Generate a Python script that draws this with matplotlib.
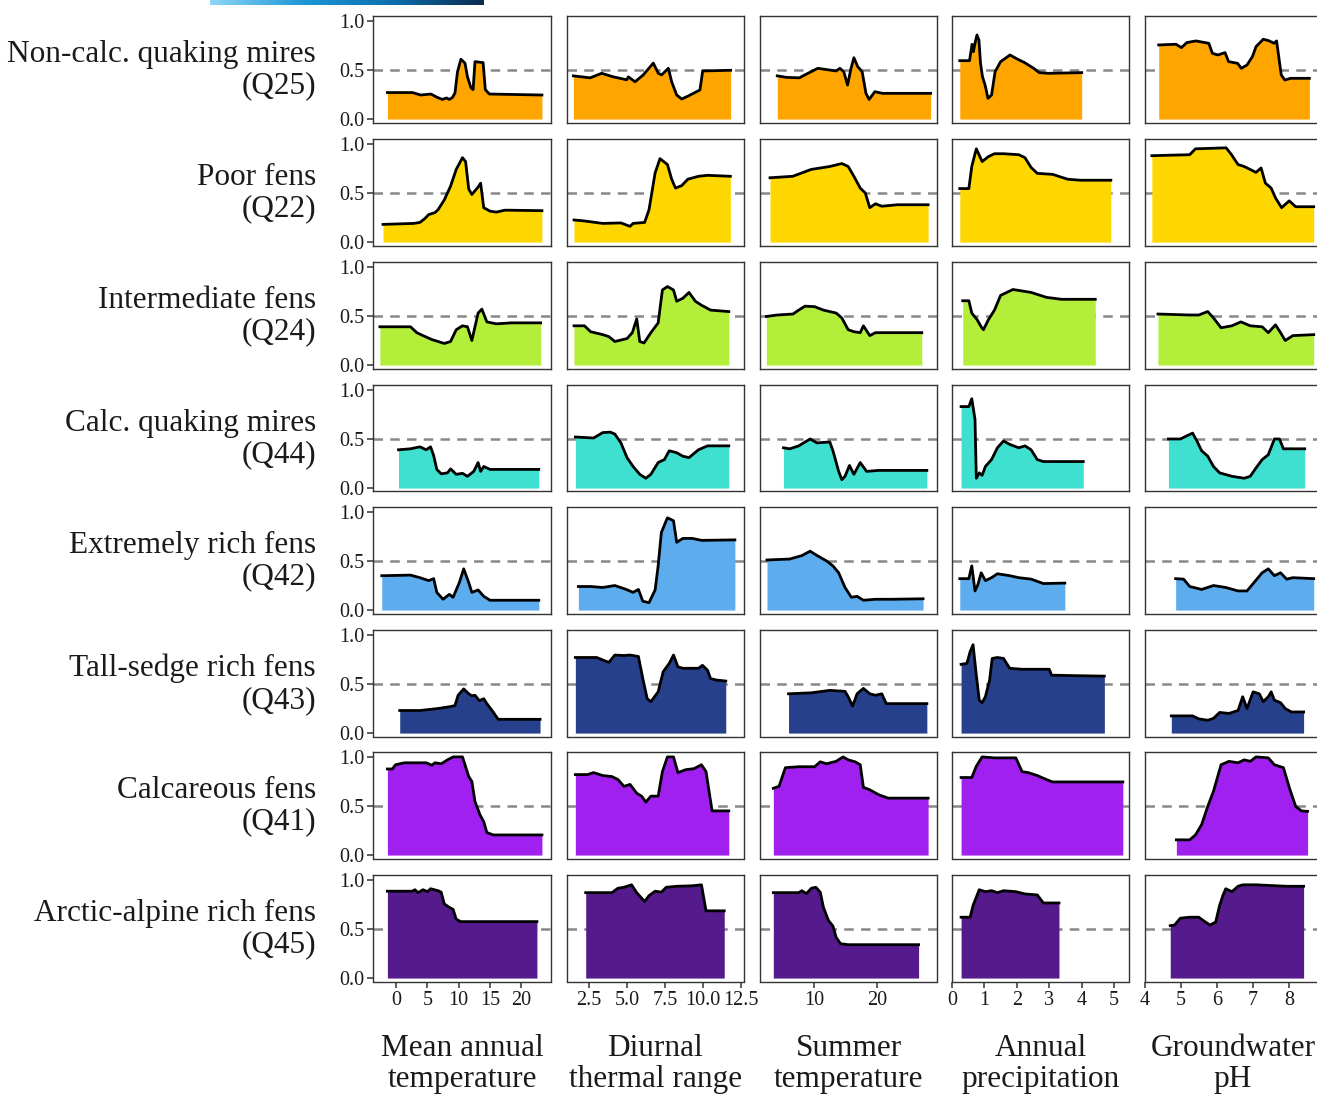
import numpy as np
import matplotlib
matplotlib.use("Agg")
import matplotlib.pyplot as plt
from matplotlib.colors import LinearSegmentedColormap

plt.rcParams['font.family'] = ['Liberation Serif', 'DejaVu Serif']

# ---------------- data ----------------
row_labels = ["Non-calc. quaking mires\n(Q25)", "Poor fens\n(Q22)", "Intermediate fens\n(Q24)",
              "Calc. quaking mires\n(Q44)", "Extremely rich fens\n(Q42)", "Tall-sedge rich fens\n(Q43)",
              "Calcareous fens\n(Q41)", "Arctic-alpine rich fens\n(Q45)"]
col_labels = ["Mean annual\ntemperature", "Diurnal\nthermal range", "Summer\ntemperature",
              "Annual\nprecipitation", "Groundwater\npH"]
fill_colors = ["#FFA500", "#FFD700", "#B3EE3A", "#40E0D0", "#5CACEE", "#27408B", "#A020F0", "#551A8B"]

xticks = [[0, 5, 10, 15, 20], [2.5, 5.0, 7.5, 10.0, 12.5], [10, 20], [0, 1, 2, 3, 4, 5], [4, 5, 6, 7, 8]]
xticklabels = [["0", "5", "10", "15", "20"], ["2.5", "5.0", "7.5", "10.0", "12.5"], ["10", "20"],
               ["0", "1", "2", "3", "4", "5"], ["4", "5", "6", "7", "8"]]
yticks = [0.0, 0.5, 1.0]
yticklabels = ["0.0", "0.5", "1.0"]

# Q25 Non-calc. quaking mires
q25_mat_x = [-1.4, 2.6, 3.95, 5.55, 6.6, 7.4, 8.05, 8.5, 9.0, 9.4, 9.8, 10.35, 11.0, 11.4, 11.95, 12.3, 12.6, 13.9, 14.25, 14.9, 23.3]
q25_mat_y = [0.27, 0.27, 0.245, 0.255, 0.22, 0.20, 0.215, 0.20, 0.22, 0.265, 0.48, 0.61, 0.57, 0.43, 0.32, 0.30, 0.585, 0.575, 0.30, 0.255, 0.245]
q25_dtr_x = [1.47, 2.57, 3.33, 4.1, 4.98, 5.09, 5.53, 6.07, 6.73, 7.06, 7.28, 7.72, 7.94, 8.27, 8.6, 9.03, 9.59, 9.8, 9.98, 11.82]
q25_dtr_y = [0.44, 0.42, 0.466, 0.43, 0.40, 0.43, 0.38, 0.45, 0.57, 0.466, 0.45, 0.517, 0.38, 0.245, 0.204, 0.235, 0.28, 0.296, 0.49, 0.497]
q25_sum_x = [4.22, 5.67, 7.7, 8.57, 10.6, 13.5, 14.1, 14.7, 15.3, 15.85, 16.3, 16.9, 17.6, 18.2, 18.7, 19.6, 20.8, 28.4]
q25_sum_y = [0.44, 0.425, 0.42, 0.45, 0.517, 0.49, 0.517, 0.483, 0.347, 0.517, 0.625, 0.534, 0.483, 0.262, 0.20, 0.279, 0.262, 0.262]
q25_pre_x = [0.24, 0.54, 0.62, 0.66, 0.71, 0.77, 0.83, 0.88, 0.94, 1.02, 1.11, 1.22, 1.33, 1.5, 1.79, 2.01, 2.24, 2.52, 2.69, 2.98, 4.0]
q25_pre_y = [0.595, 0.595, 0.762, 0.687, 0.772, 0.857, 0.806, 0.568, 0.432, 0.347, 0.211, 0.245, 0.483, 0.585, 0.653, 0.612, 0.575, 0.517, 0.473, 0.466, 0.473]
q25_ph_x = [4.38, 4.86, 5.01, 5.16, 5.41, 5.77, 5.87, 6.02, 6.22, 6.32, 6.57, 6.67, 6.83, 6.98, 7.08, 7.28, 7.43, 7.58, 7.65, 7.71, 7.78, 7.88, 8.04, 8.56]
q25_ph_y = [0.755, 0.762, 0.728, 0.779, 0.796, 0.772, 0.67, 0.653, 0.677, 0.585, 0.568, 0.517, 0.551, 0.636, 0.738, 0.813, 0.799, 0.772, 0.796, 0.636, 0.449, 0.398, 0.415, 0.415]

# Q22 Poor fens
q22_mat_x = [-2.1, 2.8, 3.8, 4.6, 5.2, 6.2, 6.7, 7.7, 8.7, 9.6, 10.6, 11.1, 11.6, 12.1, 13.1, 13.5, 14.0, 15.0, 16.0, 17.4, 23.3]
q22_mat_y = [0.18, 0.19, 0.20, 0.24, 0.28, 0.30, 0.33, 0.43, 0.57, 0.74, 0.86, 0.82, 0.54, 0.485, 0.56, 0.60, 0.35, 0.315, 0.305, 0.325, 0.32]
q22_dtr_x = [1.51, 2.2, 3.4, 4.6, 5.2, 5.4, 6.16, 6.45, 6.85, 7.17, 7.66, 7.94, 8.19, 8.6, 9.0, 9.7, 10.3, 11.8]
q22_dtr_y = [0.225, 0.215, 0.19, 0.195, 0.16, 0.19, 0.20, 0.33, 0.705, 0.85, 0.79, 0.64, 0.55, 0.575, 0.64, 0.67, 0.68, 0.67]
q22_sum_x = [3.08, 6.66, 9.57, 12.5, 14.4, 15.4, 16.3, 17.3, 18.1, 18.8, 19.7, 20.7, 23.1, 28.0]
q22_sum_y = [0.655, 0.67, 0.74, 0.77, 0.80, 0.77, 0.67, 0.55, 0.50, 0.35, 0.39, 0.365, 0.38, 0.38]
q22_pre_x = [0.24, 0.52, 0.61, 0.75, 0.93, 1.12, 1.31, 1.59, 2.06, 2.25, 2.44, 2.63, 3.1, 3.57, 3.95, 4.9]
q22_pre_y = [0.545, 0.545, 0.77, 0.95, 0.82, 0.87, 0.90, 0.90, 0.89, 0.86, 0.76, 0.70, 0.69, 0.64, 0.63, 0.63]
q22_ph_x = [4.19, 5.24, 5.4, 6.25, 6.4, 6.58, 6.75, 7.08, 7.22, 7.34, 7.5, 7.62, 7.79, 8.0, 8.18, 8.68]
q22_ph_y = [0.88, 0.89, 0.95, 0.96, 0.89, 0.79, 0.77, 0.71, 0.755, 0.60, 0.55, 0.45, 0.35, 0.42, 0.36, 0.36]

# Q24 Intermediate fens
q24_mat_x = [-2.6, 2.3, 3.3, 4.3, 5.7, 7.7, 8.7, 9.6, 10.6, 11.4, 12.1, 13.1, 13.7, 14.5, 16.0, 18.4, 23.1]
q24_mat_y = [0.39, 0.39, 0.33, 0.30, 0.26, 0.22, 0.24, 0.36, 0.40, 0.39, 0.25, 0.53, 0.57, 0.44, 0.42, 0.43, 0.43]
q24_dtr_x = [1.51, 2.2, 2.6, 3.4, 3.8, 4.2, 5.0, 5.35, 5.64, 5.84, 6.12, 6.57, 7.05, 7.33, 7.66, 8.06, 8.27, 8.67, 9.08, 9.5, 9.9, 10.5, 11.7]
q24_dtr_y = [0.40, 0.40, 0.34, 0.31, 0.29, 0.24, 0.27, 0.33, 0.47, 0.24, 0.225, 0.33, 0.43, 0.765, 0.80, 0.765, 0.65, 0.68, 0.74, 0.65, 0.61, 0.56, 0.545]
q24_sum_x = [2.5, 4.2, 6.7, 7.6, 8.6, 10.1, 11.5, 13.5, 14.4, 15.4, 16.3, 17.3, 17.8, 18.8, 19.7, 20.7, 27.0]
q24_sum_y = [0.495, 0.51, 0.52, 0.56, 0.60, 0.595, 0.56, 0.53, 0.48, 0.36, 0.34, 0.33, 0.40, 0.30, 0.33, 0.33, 0.33]
q24_pre_x = [0.33, 0.52, 0.61, 0.78, 0.9, 0.97, 1.12, 1.31, 1.5, 1.88, 2.44, 2.91, 3.38, 4.42]
q24_pre_y = [0.655, 0.655, 0.53, 0.46, 0.39, 0.36, 0.46, 0.56, 0.71, 0.77, 0.74, 0.69, 0.67, 0.67]
q24_ph_x = [4.36, 5.24, 5.49, 5.74, 5.9, 6.11, 6.41, 6.66, 6.92, 7.25, 7.42, 7.62, 7.76, 7.89, 8.1, 8.68]
q24_ph_y = [0.52, 0.51, 0.51, 0.545, 0.48, 0.38, 0.40, 0.44, 0.40, 0.39, 0.33, 0.41, 0.33, 0.25, 0.30, 0.31]

# Q44 Calc. quaking mires
q44_mat_x = [0.37, 2.3, 3.8, 4.8, 5.5, 6.0, 6.5, 7.2, 8.2, 8.7, 9.6, 10.6, 11.4, 12.4, 13.1, 13.5, 14.0, 15.0, 22.8]
q44_mat_y = [0.39, 0.40, 0.42, 0.39, 0.42, 0.33, 0.19, 0.145, 0.155, 0.195, 0.14, 0.15, 0.12, 0.17, 0.26, 0.17, 0.22, 0.19, 0.19]
q44_dtr_x = [1.6, 2.8, 3.4, 3.9, 4.2, 4.6, 5.0, 5.4, 5.84, 6.24, 6.57, 7.05, 7.46, 7.78, 8.27, 8.67, 9.08, 9.7, 10.3, 11.7]
q44_dtr_y = [0.52, 0.51, 0.565, 0.57, 0.55, 0.46, 0.31, 0.22, 0.14, 0.10, 0.14, 0.26, 0.29, 0.38, 0.36, 0.325, 0.31, 0.39, 0.43, 0.43]
q44_sum_x = [5.2, 6.2, 7.6, 9.4, 10.5, 12.5, 13.0, 13.9, 14.4, 14.9, 15.6, 16.3, 17.3, 18.3, 20.2, 27.8]
q44_sum_y = [0.41, 0.40, 0.43, 0.50, 0.46, 0.47, 0.38, 0.17, 0.085, 0.12, 0.23, 0.14, 0.26, 0.17, 0.18, 0.18]
q44_pre_x = [0.28, 0.52, 0.61, 0.71, 0.75, 0.84, 0.93, 1.03, 1.22, 1.4, 1.59, 1.78, 2.06, 2.25, 2.44, 2.63, 2.82, 4.05]
q44_pre_y = [0.83, 0.83, 0.91, 0.70, 0.10, 0.155, 0.13, 0.22, 0.29, 0.41, 0.48, 0.445, 0.41, 0.43, 0.39, 0.29, 0.27, 0.27]
q44_ph_x = [4.65, 4.98, 5.32, 5.44, 5.57, 5.74, 5.9, 6.07, 6.41, 6.75, 6.92, 7.08, 7.25, 7.42, 7.59, 7.73, 7.84, 8.43]
q44_ph_y = [0.50, 0.50, 0.56, 0.48, 0.38, 0.325, 0.22, 0.155, 0.12, 0.10, 0.12, 0.205, 0.29, 0.34, 0.50, 0.50, 0.40, 0.40]

# Q42 Extremely rich fens
q42_mat_x = [-2.3, 2.3, 3.8, 5.2, 6.0, 6.5, 7.5, 8.5, 9.1, 10.1, 10.8, 11.6, 12.1, 13.1, 14.0, 15.0, 22.8]
q42_mat_y = [0.35, 0.356, 0.33, 0.30, 0.32, 0.18, 0.11, 0.16, 0.13, 0.28, 0.42, 0.28, 0.18, 0.205, 0.14, 0.10, 0.10]
q42_dtr_x = [1.8, 2.6, 3.4, 4.2, 4.95, 5.4, 5.75, 6.04, 6.45, 6.85, 7.05, 7.26, 7.66, 8.06, 8.27, 8.67, 9.3, 9.9, 12.1]
q42_dtr_y = [0.24, 0.24, 0.23, 0.25, 0.21, 0.18, 0.21, 0.09, 0.075, 0.205, 0.45, 0.79, 0.94, 0.91, 0.69, 0.73, 0.73, 0.71, 0.715]
q42_sum_x = [2.6, 6.2, 8.1, 9.4, 10.5, 12.0, 13.0, 13.9, 14.9, 15.9, 16.8, 17.8, 19.7, 22.2, 27.2]
q42_sum_y = [0.51, 0.52, 0.555, 0.60, 0.555, 0.50, 0.45, 0.38, 0.23, 0.13, 0.14, 0.10, 0.11, 0.11, 0.115]
q42_pre_x = [0.24, 0.52, 0.61, 0.71, 0.8, 0.9, 1.03, 1.22, 1.4, 1.78, 2.06, 2.44, 2.82, 3.48]
q42_pre_y = [0.32, 0.32, 0.45, 0.195, 0.26, 0.38, 0.30, 0.33, 0.37, 0.35, 0.33, 0.315, 0.27, 0.275]
q42_ph_x = [4.85, 5.07, 5.24, 5.57, 5.9, 6.24, 6.58, 6.83, 7.0, 7.25, 7.42, 7.59, 7.76, 7.93, 8.1, 8.68]
q42_ph_y = [0.32, 0.315, 0.24, 0.21, 0.25, 0.23, 0.195, 0.195, 0.27, 0.38, 0.42, 0.35, 0.38, 0.315, 0.33, 0.32]

# Q43 Tall-sedge rich fens
q43_mat_x = [0.57, 3.8, 6.7, 8.7, 9.4, 9.9, 10.8, 11.6, 12.1, 12.6, 13.3, 14.0, 14.5, 15.5, 16.3, 23.0]
q43_mat_y = [0.23, 0.23, 0.25, 0.27, 0.28, 0.385, 0.45, 0.40, 0.38, 0.385, 0.33, 0.35, 0.30, 0.215, 0.14, 0.14]
q43_dtr_x = [1.6, 3.0, 3.8, 4.2, 4.8, 5.2, 5.75, 6.04, 6.33, 6.57, 7.05, 7.38, 7.78, 8.06, 8.35, 8.67, 9.7, 9.97, 10.3, 10.5, 10.9, 11.5]
q43_dtr_y = [0.77, 0.77, 0.72, 0.795, 0.79, 0.795, 0.78, 0.555, 0.35, 0.32, 0.42, 0.625, 0.71, 0.795, 0.675, 0.66, 0.66, 0.69, 0.64, 0.555, 0.54, 0.53]
q43_sum_x = [6.0, 9.6, 12.5, 14.9, 15.4, 16.1, 16.8, 17.8, 18.8, 19.7, 20.7, 21.4, 27.8]
q43_sum_y = [0.40, 0.41, 0.435, 0.425, 0.37, 0.275, 0.40, 0.455, 0.40, 0.385, 0.40, 0.30, 0.30]
q43_pre_x = [0.28, 0.46, 0.56, 0.65, 0.75, 0.84, 0.93, 1.03, 1.16, 1.24, 1.4, 1.59, 1.78, 2.16, 3.0, 3.07, 3.76, 4.7]
q43_pre_y = [0.70, 0.71, 0.83, 0.90, 0.59, 0.335, 0.31, 0.37, 0.54, 0.76, 0.77, 0.76, 0.66, 0.65, 0.65, 0.59, 0.585, 0.58]
q43_ph_x = [4.73, 5.32, 5.49, 5.74, 5.9, 6.07, 6.33, 6.58, 6.71, 6.83, 7.0, 7.17, 7.28, 7.42, 7.5, 7.59, 7.76, 7.89, 8.06, 8.4]
q43_ph_y = [0.175, 0.175, 0.145, 0.13, 0.15, 0.21, 0.20, 0.23, 0.37, 0.25, 0.42, 0.40, 0.32, 0.37, 0.42, 0.335, 0.31, 0.25, 0.215, 0.215]

# Q41 Calcareous fens
q41_mat_x = [-1.4, -0.6, -0.1, 1.3, 4.8, 5.7, 6.2, 7.2, 8.2, 9.1, 10.6, 11.6, 12.1, 12.6, 13.4, 14.0, 14.5, 15.5, 23.3]
q41_mat_y = [0.877, 0.877, 0.92, 0.94, 0.94, 0.915, 0.94, 0.93, 0.97, 1.0, 1.0, 0.80, 0.75, 0.546, 0.41, 0.34, 0.23, 0.205, 0.205]
q41_dtr_x = [1.6, 2.4, 2.8, 3.4, 4.0, 4.4, 4.8, 5.2, 5.64, 5.96, 6.24, 6.57, 7.05, 7.33, 7.66, 8.06, 8.35, 8.87, 9.4, 9.9, 10.2, 10.6, 11.7]
q41_dtr_y = [0.82, 0.82, 0.84, 0.81, 0.80, 0.77, 0.70, 0.72, 0.63, 0.60, 0.54, 0.60, 0.60, 0.85, 1.0, 1.0, 0.84, 0.87, 0.88, 0.92, 0.85, 0.45, 0.45]
q41_sum_x = [3.6, 4.5, 5.5, 7.6, 10.1, 11.0, 12.0, 13.5, 14.6, 15.4, 16.5, 17.3, 17.8, 18.8, 20.2, 21.7, 28.0]
q41_sum_y = [0.68, 0.70, 0.89, 0.90, 0.90, 0.95, 0.93, 0.955, 1.0, 0.97, 0.95, 0.92, 0.69, 0.665, 0.615, 0.58, 0.58]
q41_pre_x = [0.28, 0.61, 0.75, 0.93, 1.31, 1.97, 2.16, 2.35, 2.63, 2.91, 3.1, 5.27]
q41_pre_y = [0.79, 0.79, 0.905, 1.0, 0.99, 0.99, 0.85, 0.84, 0.81, 0.77, 0.745, 0.745]
q41_ph_x = [4.87, 5.24, 5.4, 5.57, 5.74, 5.9, 6.11, 6.33, 6.58, 6.75, 6.92, 7.08, 7.42, 7.59, 7.84, 8.01, 8.18, 8.34, 8.51]
q41_ph_y = [0.155, 0.155, 0.205, 0.31, 0.495, 0.65, 0.92, 0.955, 0.94, 0.97, 0.955, 1.0, 0.99, 0.92, 0.89, 0.68, 0.495, 0.45, 0.445]

# Q45 Arctic-alpine rich fens
q45_mat_x = [-1.4, 2.6, 3.0, 3.5, 4.3, 5.0, 5.5, 6.7, 7.2, 7.7, 8.5, 9.1, 9.6, 10.3, 22.5]
q45_mat_y = [0.885, 0.885, 0.90, 0.87, 0.90, 0.88, 0.91, 0.89, 0.875, 0.755, 0.72, 0.70, 0.60, 0.575, 0.575]
q45_dtr_x = [2.28, 4.0, 4.4, 4.8, 5.3, 5.64, 6.16, 6.45, 6.85, 7.26, 7.58, 8.27, 9.3, 9.9, 10.2, 11.4]
q45_dtr_y = [0.87, 0.87, 0.915, 0.925, 0.95, 0.87, 0.78, 0.84, 0.885, 0.875, 0.925, 0.935, 0.94, 0.95, 0.685, 0.685]
q45_sum_x = [3.6, 7.6, 8.1, 8.8, 9.6, 10.3, 11.0, 11.5, 12.3, 13.0, 13.5, 14.2, 15.4, 26.5]
q45_sum_y = [0.87, 0.87, 0.89, 0.86, 0.915, 0.925, 0.875, 0.72, 0.585, 0.53, 0.415, 0.35, 0.34, 0.34]
q45_pre_x = [0.28, 0.56, 0.65, 0.84, 1.03, 1.22, 1.4, 1.59, 1.97, 2.25, 2.63, 2.82, 3.3]
q45_pre_y = [0.62, 0.62, 0.74, 0.90, 0.88, 0.89, 0.87, 0.89, 0.88, 0.857, 0.847, 0.765, 0.765]
q45_ph_x = [4.7, 4.82, 4.98, 5.24, 5.49, 5.66, 5.8, 5.96, 6.07, 6.16, 6.24, 6.41, 6.58, 6.71, 7.08, 7.93, 8.4]
q45_ph_y = [0.534, 0.54, 0.61, 0.62, 0.62, 0.575, 0.54, 0.57, 0.74, 0.84, 0.91, 0.88, 0.935, 0.95, 0.95, 0.935, 0.935]

panels = [
    [(q25_mat_x, q25_mat_y), (q25_dtr_x, q25_dtr_y), (q25_sum_x, q25_sum_y), (q25_pre_x, q25_pre_y), (q25_ph_x, q25_ph_y)],
    [(q22_mat_x, q22_mat_y), (q22_dtr_x, q22_dtr_y), (q22_sum_x, q22_sum_y), (q22_pre_x, q22_pre_y), (q22_ph_x, q22_ph_y)],
    [(q24_mat_x, q24_mat_y), (q24_dtr_x, q24_dtr_y), (q24_sum_x, q24_sum_y), (q24_pre_x, q24_pre_y), (q24_ph_x, q24_ph_y)],
    [(q44_mat_x, q44_mat_y), (q44_dtr_x, q44_dtr_y), (q44_sum_x, q44_sum_y), (q44_pre_x, q44_pre_y), (q44_ph_x, q44_ph_y)],
    [(q42_mat_x, q42_mat_y), (q42_dtr_x, q42_dtr_y), (q42_sum_x, q42_sum_y), (q42_pre_x, q42_pre_y), (q42_ph_x, q42_ph_y)],
    [(q43_mat_x, q43_mat_y), (q43_dtr_x, q43_dtr_y), (q43_sum_x, q43_sum_y), (q43_pre_x, q43_pre_y), (q43_ph_x, q43_ph_y)],
    [(q41_mat_x, q41_mat_y), (q41_dtr_x, q41_dtr_y), (q41_sum_x, q41_sum_y), (q41_pre_x, q41_pre_y), (q41_ph_x, q41_ph_y)],
    [(q45_mat_x, q45_mat_y), (q45_dtr_x, q45_dtr_y), (q45_sum_x, q45_sum_y), (q45_pre_x, q45_pre_y), (q45_ph_x, q45_ph_y)],
]

# ---------------- layout ----------------
W, H = 1317, 1094
fig = plt.figure(figsize=(W / 100, H / 100), dpi=100)

col_px = [(373, 551), (567, 744), (760, 937), (952, 1129), (1145, 1322)]
row_top = [16, 139, 262, 385, 507, 630, 752, 875]
row_h = 106.5
xlims = [(-3.7, 24.75), (1.05, 12.7), (1.5, 29.4), (0.0, 5.46), (4.0, 8.91)]
ylim = (-0.035, 1.05)

border_col = "#333333"
text_col = "#1a1a1a"

for r in range(8):
    for c in range(5):
        x0, x1 = col_px[c]
        ax = fig.add_axes([x0 / W, 1 - (row_top[r] + row_h) / H, (x1 - x0) / W, row_h / H])
        xs, ys = panels[r][c]
        ax.axhline(0.5, color="#888888", lw=1.8, dashes=(3.8, 2.9), zorder=1)
        ax.fill_between(xs, 0, ys, color=fill_colors[r], lw=0, zorder=2)
        ax.plot(xs, ys, color="black", lw=2.0, zorder=3, solid_joinstyle="round")
        ax.set_xlim(*xlims[c])
        ax.set_ylim(*ylim)
        for sp in ax.spines.values():
            sp.set_color(border_col)
            sp.set_linewidth(1.0)
        ax.tick_params(direction="out", length=4.5, width=1.1, color=border_col,
                       labelsize=14.5, labelcolor=text_col, pad=2)
        if c == 0:
            ax.set_yticks(yticks)
            ax.set_yticklabels(yticklabels)
        else:
            ax.set_yticks([])
        if r == 7:
            ax.set_xticks(xticks[c])
            ax.set_xticklabels(xticklabels[c])
        else:
            ax.set_xticks([])
        if c == 0:
            yc = 1 - (row_top[r] + row_h / 2 + 1) / H
            fig.text(316 / W, yc, row_labels[r], ha="right", va="center", ma="right",
                     fontsize=22.5, color=text_col, linespacing=1.12)

for c in range(5):
    xc = (col_px[c][0] + col_px[c][1]) / 2 if c < 4 else 1233
    fig.text(xc / W, 1 - 1064 / H, col_labels[c], ha="center", va="center", ma="center",
             fontsize=22.5, color=text_col, linespacing=1.12)

# cropped colour bar at the top
cax = fig.add_axes([210 / W, 1 - 5 / H, 274 / W, 5 / H])
cmap = LinearSegmentedColormap.from_list("bar", ["#8ED6F6", "#1E98D6", "#0B6FAE", "#0B2A4F"])
cax.imshow(np.linspace(0, 1, 256)[None, :], aspect="auto", cmap=cmap)
cax.set_axis_off()

fig.savefig("out.png", dpi=100)
